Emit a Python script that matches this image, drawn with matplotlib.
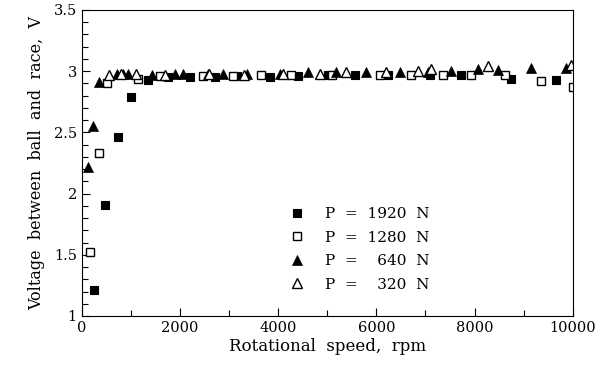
import matplotlib
matplotlib.use("Agg")
import matplotlib.pyplot as plt
from matplotlib.ticker import MultipleLocator

plt.rcParams['font.family'] = 'DejaVu Serif'

# P = 1920 N (filled squares)
x_1920 = [250, 476, 745, 1003, 1350, 1756, 2204, 2712, 3163, 3831, 4406, 5012, 5561, 6239, 7086, 7731, 8749, 9664]
v_1920 = [1.21, 1.905, 2.46, 2.79, 2.93, 2.95, 2.95, 2.95, 2.96, 2.95, 2.96, 2.97, 2.97, 2.97, 2.97, 2.97, 2.94, 2.93]

# P = 1280 N (open squares)
x_1280 = [169, 358, 521, 1146, 1594, 2472, 3082, 3662, 4273, 5100, 6069, 6714, 7357, 7935, 8631, 9359, 10000]
v_1280 = [1.52, 2.33, 2.90, 2.94, 2.96, 2.96, 2.96, 2.97, 2.97, 2.97, 2.97, 2.97, 2.97, 2.97, 2.97, 2.92, 2.87]

# P = 640 N (filled triangles)
x_640 = [134, 236, 358, 713, 847, 949, 1424, 1899, 2065, 2574, 2878, 3366, 4036, 4609, 5188, 5799, 6474, 7050, 7527, 8071, 8478, 9155, 9868]
v_640 = [2.22, 2.55, 2.91, 2.98, 2.98, 2.98, 2.97, 2.98, 2.98, 2.98, 2.98, 2.98, 2.98, 2.99, 2.99, 2.99, 2.99, 2.99, 3.00, 3.02, 3.01, 3.03, 3.03]

# P = 320 N (open triangles)
x_320 = [560, 800, 1100, 1700, 2600, 3300, 4100, 4848, 5392, 6205, 6850, 7121, 8274, 9970]
v_320 = [2.97, 2.98, 2.98, 2.97, 2.98, 2.97, 2.98, 2.98, 2.99, 2.99, 3.00, 3.02, 3.04, 3.05]

labels = ["P  =  1920  N", "P  =  1280  N", "P  =    640  N", "P  =    320  N"]

fig = plt.figure(figsize=(5.98, 3.67), dpi=100)
ax = fig.add_axes([0.1366, 0.139, 0.8211, 0.8338])

ax.plot(x_1920, v_1920, 's', color='black', ms=6, mew=0.8, label=labels[0])
ax.plot(x_1280, v_1280, 's', mfc='white', mec='black', ms=6, mew=1.0, label=labels[1])
ax.plot(x_640, v_640, '^', color='black', ms=7.5, mew=0.5, label=labels[2])
ax.plot(x_320, v_320, '^', mfc='white', mec='black', ms=7.5, mew=1.0, label=labels[3])

ax.set_xlim(0, 10000)
ax.set_ylim(1, 3.5)
ax.xaxis.set_major_locator(MultipleLocator(2000))
ax.xaxis.set_minor_locator(MultipleLocator(1000))
ax.yaxis.set_major_locator(MultipleLocator(0.5))
ax.yaxis.set_minor_locator(MultipleLocator(0.1))
ax.set_yticks([1, 1.5, 2, 2.5, 3, 3.5])
ax.set_yticklabels(["1", "1.5", "2", "2.5", "3", "3.5"])
ax.tick_params(which='both', direction='in', top=False, right=False, labelsize=10.5)
ax.tick_params(which='major', length=6, width=0.8)
ax.tick_params(which='minor', length=4, width=0.8)

ax.set_xlabel("Rotational  speed,  rpm", fontsize=12, labelpad=2)
ax.set_ylabel("Voltage  between  ball  and  race,  V", fontsize=11.5, labelpad=6)

ax.legend(loc='upper left', bbox_to_anchor=(0.395, 0.40), frameon=False,
          fontsize=11, handletextpad=1.3, labelspacing=0.62, handlelength=1.0,
          numpoints=1)

fig.savefig("out.png", dpi=100)
